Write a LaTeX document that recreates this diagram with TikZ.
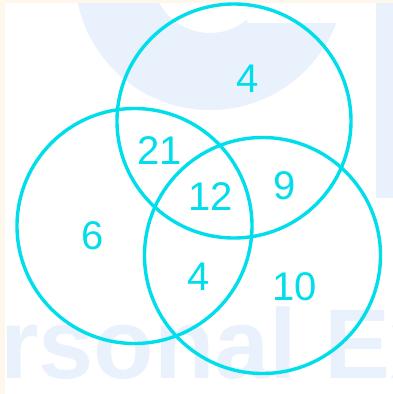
\documentclass[tikz,border=0pt]{standalone}
\usepackage{fontspec}
\setmainfont{Liberation Sans}
\begin{document}
\begin{tikzpicture}[x=1pt,y=-1pt,
  venn/.style={draw=vcyan,line width=3.4pt,circle,inner sep=0pt},
  lbl/.style={text=vcyan,inner sep=0pt,font=\fontsize{40}{48}\selectfont},
  wm/.style={fill=wmblue,draw=none}]
\definecolor{vcyan}{RGB}{0,222,236}
\definecolor{wmblue}{RGB}{233,241,252}
\definecolor{cream}{RGB}{253,247,236}
\useasboundingbox (0,0) rectangle (393,394);
\fill[white] (0,0) rectangle (393,394);
% watermark
\begin{scope}
  \clip (0,0) -- (247,0) -- (247,23) -- (393,23) -- (393,394) -- (0,394) -- cycle;
  \fill[wm,even odd rule] (210,-25) circle[radius=135] (210,-25) circle[radius=58];
\end{scope}
\fill[wm] (376,3) rectangle (393,198);
\node[anchor=base west,inner sep=0pt,text=wmblue,font=\bfseries\fontsize{99}{105}\selectfont] (wmtext) at (0,378) {rsonal Ex};
% cream strips
\fill[cream] (0,0) rectangle (393,3);
\fill[cream] (0,0) rectangle (5,394);
% circles
\node[venn,minimum size=234pt] (A) at (234,121) {};
\node[venn,minimum size=235pt] (B) at (134.5,226) {};
\node[venn,minimum size=236pt] (C) at (262.5,255.5) {};
% labels
\node[lbl] (nA) at (248,79) {4};
\node[lbl] (nAB) at (160,151) {21};
\node[lbl] (nABC) at (211,197) {12};
\node[lbl] (nAC) at (285,186) {9};
\node[lbl] (nB) at (93,236) {6};
\node[lbl] (nBC) at (199,277) {4};
\node[lbl] (nC) at (295,287) {10};
\end{tikzpicture}
\end{document}
